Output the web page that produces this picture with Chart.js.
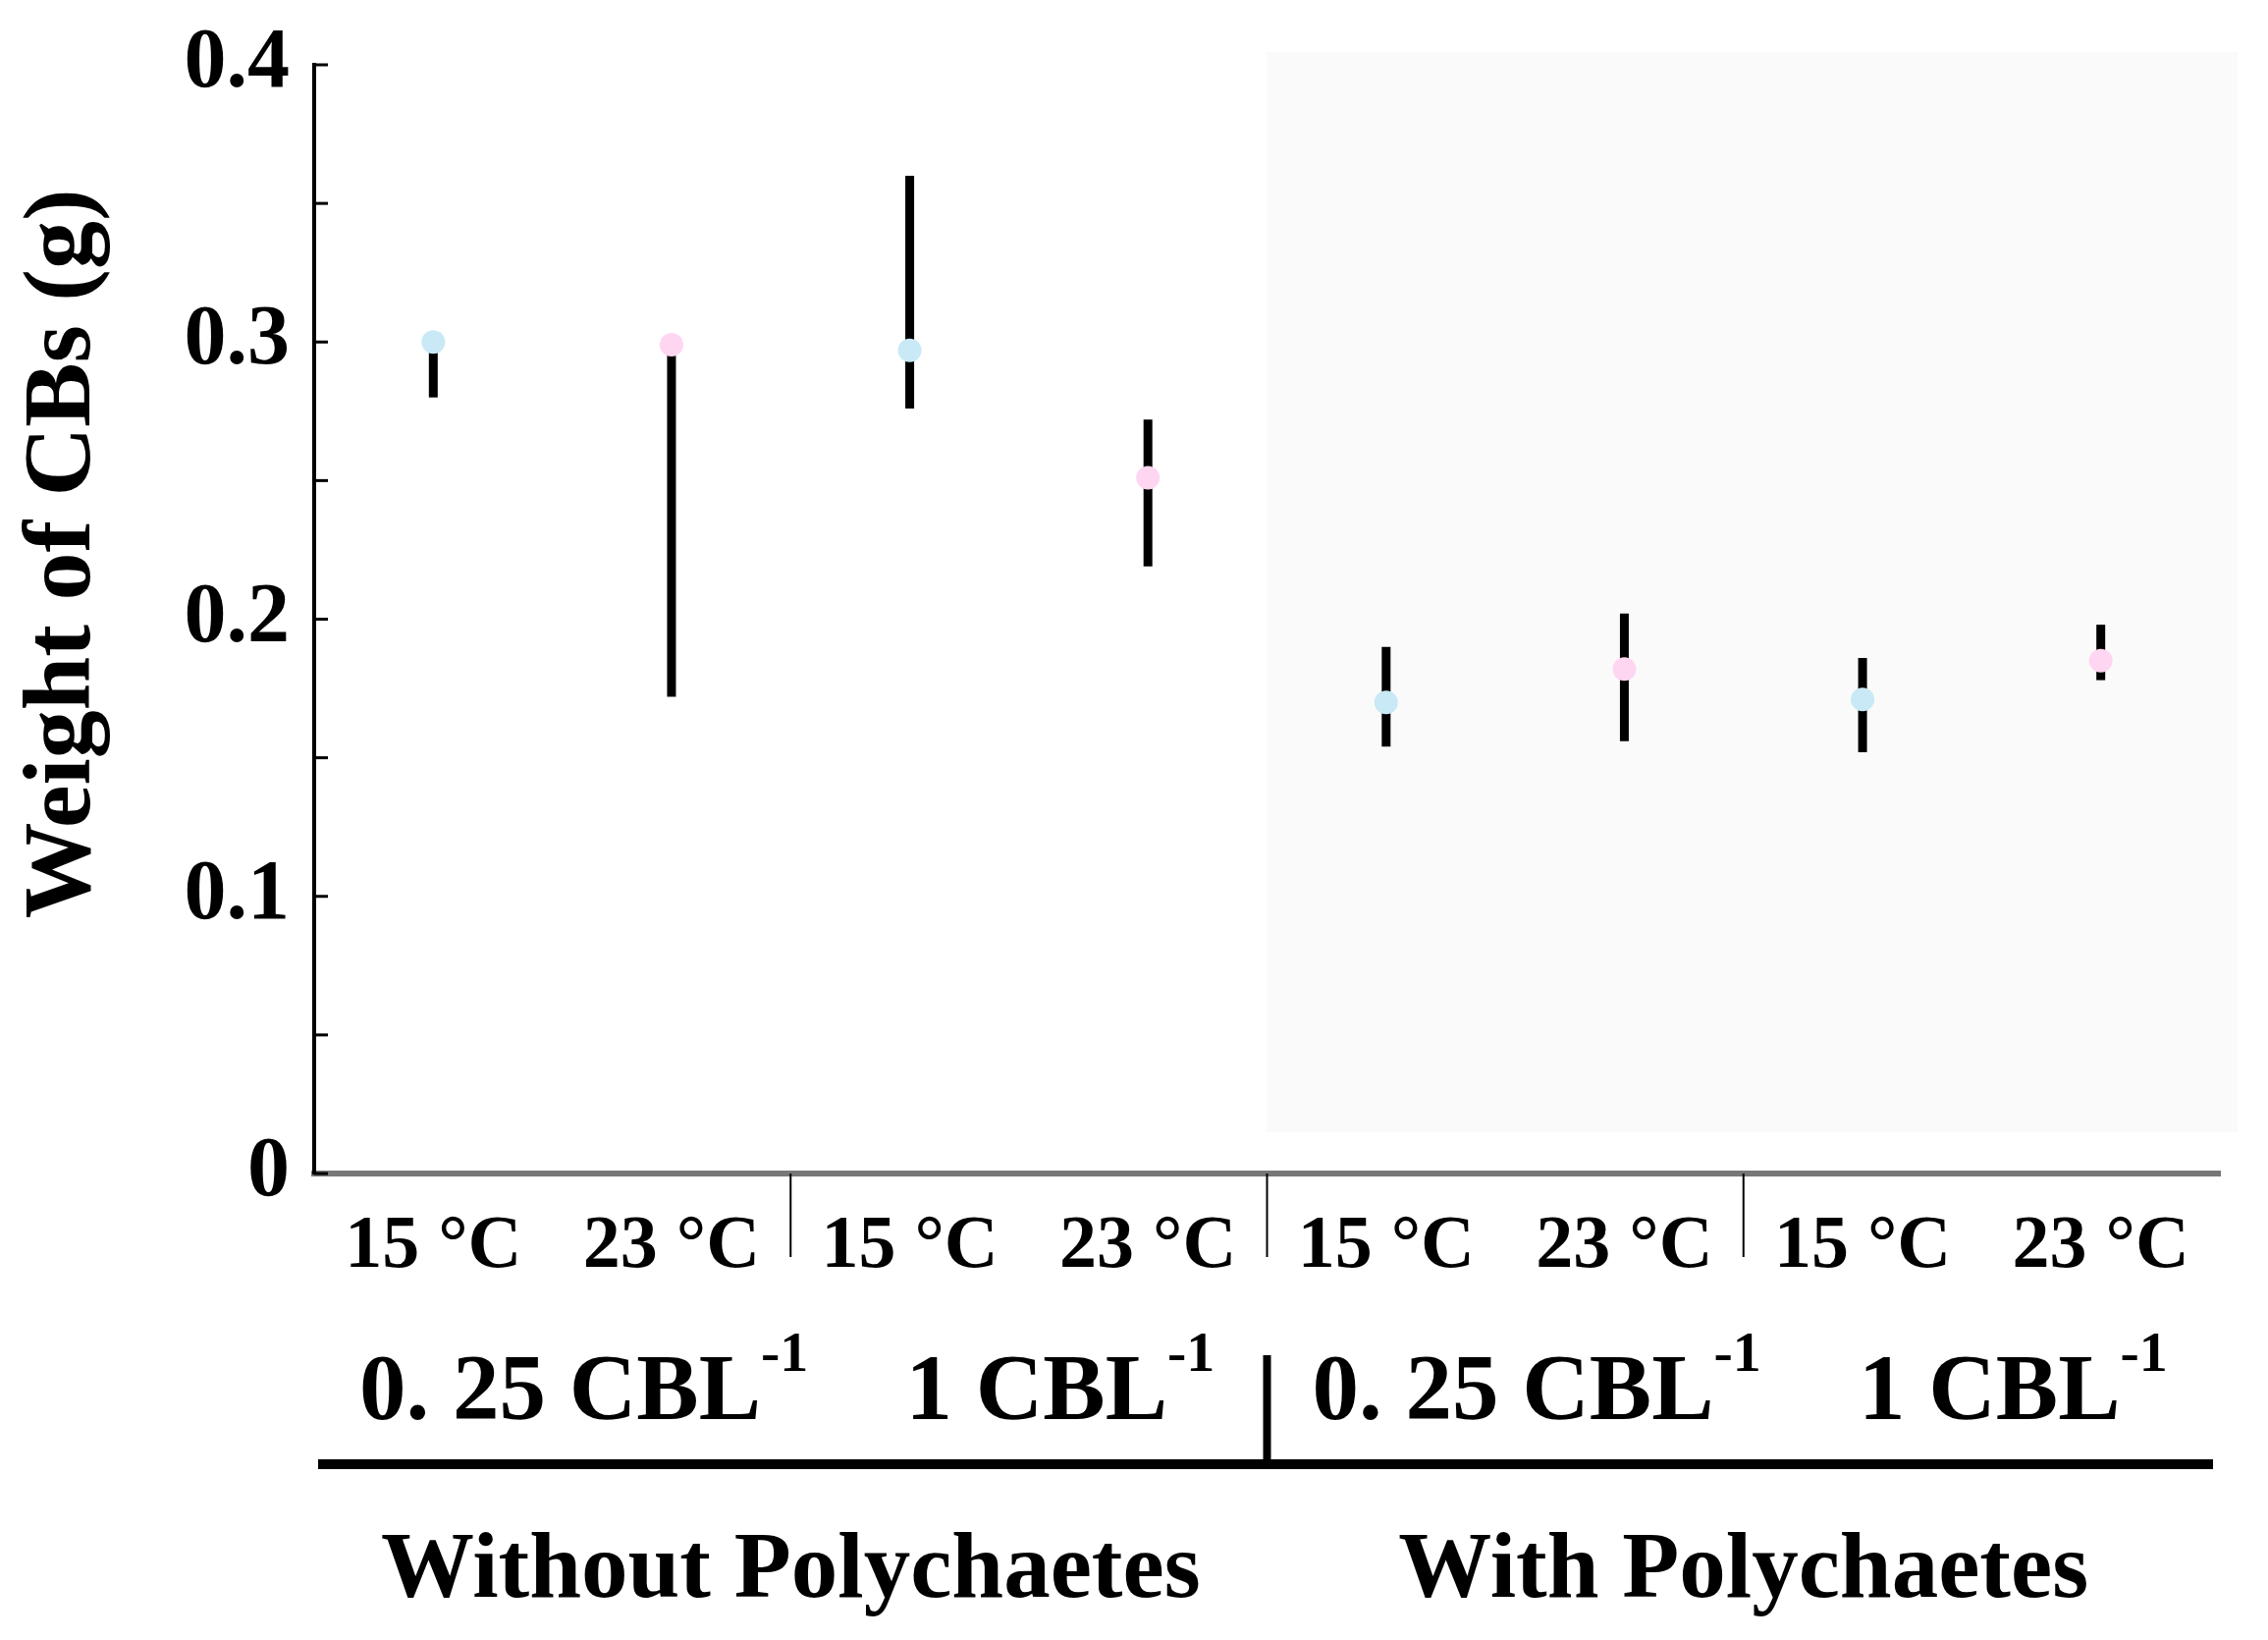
<!DOCTYPE html>
<html>
<head>
<meta charset="utf-8">
<script src="https://cdn.jsdelivr.net/npm/chart.js@4.4.1/dist/chart.umd.min.js"></script>
<style>
  html, body { margin: 0; padding: 0; background: #fff; }
  #wrap { width: 2310px; height: 1670px; }
</style>
</head>
<body>
<div id="wrap"><canvas id="chart" width="2310" height="1670"></canvas></div>
<script>
// categories
const temps = ['15 °C', '23 °C', '15 °C', '23 °C', '15 °C', '23 °C', '15 °C', '23 °C'];
const concLabels = ['0. 25 CBL', '1 CBL', '0. 25 CBL', '1 CBL'];
const groupLabels = ['Without Polychaetes', 'With Polychaetes'];

// weight of CBs (g), mean and error bar ends
const meanWeight = [0.300, 0.299, 0.297, 0.251, 0.170, 0.182, 0.171, 0.185];
const upperBar   = [0.300, 0.299, 0.360, 0.272, 0.190, 0.202, 0.186, 0.198];
const lowerBar   = [0.280, 0.172, 0.276, 0.219, 0.154, 0.156, 0.152, 0.178];

const SERIF = '"Liberation Serif", "DejaVu Serif", serif';
const CYAN = '#c8e9f5';
const PINK = '#ffd6f1';

function line(ctx, x1, y1, x2, y2) {
  ctx.beginPath();
  ctx.moveTo(x1, y1);
  ctx.lineTo(x2, y2);
  ctx.stroke();
}

const decorations = {
  id: 'decorations',
  beforeDatasetsDraw(chart) {
    const { ctx, chartArea, scales: { x, y } } = chart;
    const split = (x.getPixelForValue(3) + x.getPixelForValue(4)) / 2;
    ctx.save();
    // faint shading behind the "with polychaetes" half
    ctx.fillStyle = '#fafafa';
    ctx.fillRect(split, chartArea.top - 13, chartArea.right + 18 - split, chartArea.bottom - 42 - chartArea.top + 13);

    // inward y ticks
    ctx.strokeStyle = '#000';
    ctx.lineWidth = 3;
    y.ticks.forEach((t, i) => {
      const py = y.getPixelForTick(i);
      line(ctx, chartArea.left, py, chartArea.left + 14, py);
    });

    // error bars
    ctx.lineWidth = 9;
    ctx.lineCap = 'butt';
    meanWeight.forEach((m, i) => {
      const px = x.getPixelForValue(i);
      line(ctx, px, y.getPixelForValue(upperBar[i]), px, y.getPixelForValue(lowerBar[i]));
    });
    ctx.restore();
  },
  afterDraw(chart) {
    const { ctx, chartArea, scales: { x } } = chart;
    const mid = (a, b) => (x.getPixelForValue(a) + x.getPixelForValue(b)) / 2;
    ctx.save();
    ctx.strokeStyle = '#000';
    ctx.fillStyle = '#000';

    // thin separators under the axis
    ctx.lineWidth = 2;
    [1, 3, 5].forEach(i => {
      const px = mid(i, i + 1);
      line(ctx, px, chartArea.bottom, px, chartArea.bottom + 85);
    });

    // concentration row
    concLabels.forEach((txt, k) => {
      const cx = mid(2 * k, 2 * k + 1) + 32;
      ctx.font = 'bold 95px ' + SERIF;
      const w = ctx.measureText(txt).width;
      ctx.font = 'bold 58px ' + SERIF;
      const sw = ctx.measureText('-1').width;
      const start = cx - (w + sw) / 2;
      ctx.textAlign = 'left';
      ctx.textBaseline = 'alphabetic';
      ctx.font = 'bold 95px ' + SERIF;
      ctx.fillText(txt, start, 1445);
      ctx.font = 'bold 58px ' + SERIF;
      ctx.fillText('-1', start + w, 1396);
    });

    // group bracket
    const split = mid(3, 4);
    ctx.lineWidth = 8;
    line(ctx, split, 1380, split, 1488);
    ctx.lineWidth = 10;
    line(ctx, chartArea.left + 4, 1491, chartArea.right - 7, 1491);

    // group row
    ctx.font = 'bold 95px ' + SERIF;
    ctx.textAlign = 'center';
    ctx.fillText(groupLabels[0], mid(0, 3), 1626);
    ctx.fillText(groupLabels[1], mid(4, 7), 1626);

    // y axis title
    ctx.translate(66, 564);
    ctx.rotate(-Math.PI / 2);
    ctx.textBaseline = 'middle';
    ctx.font = 'bold 98px ' + SERIF;
    ctx.fillText('Weight of CBs (g)', 0, 0);
    ctx.restore();
  }
};

new Chart(document.getElementById('chart'), {
  type: 'line',
  data: {
    labels: temps,
    datasets: [{
      data: meanWeight,
      showLine: false,
      pointRadius: 12,
      pointBorderWidth: 0,
      pointBackgroundColor: meanWeight.map((v, i) => i % 2 === 0 ? CYAN : PINK)
    }]
  },
  options: {
    responsive: false,
    animation: false,
    devicePixelRatio: 1,
    layout: { padding: { top: 66, right: 49, left: 0, bottom: 0 } },
    plugins: { legend: { display: false }, tooltip: { enabled: false } },
    scales: {
      x: {
        type: 'category',
        offset: true,
        grid: { display: false, drawTicks: false },
        border: { display: true, color: '#777', width: 6 },
        ticks: {
          color: '#000',
          padding: 30,
          maxRotation: 0,
          autoSkip: false,
          font: { family: SERIF, size: 76, weight: 'bold' }
        },
        afterFit(scale) { scale.height = 475; }
      },
      y: {
        min: 0,
        max: 0.4,
        grid: { display: false, drawTicks: false },
        border: { display: true, color: '#000', width: 4 },
        ticks: {
          stepSize: 0.05,
          padding: 25,
          color: '#000',
          font: { family: SERIF, size: 86, weight: 'bold' },
          callback: v => {
            const c = Math.round(v * 100);
            if (c % 10 !== 0) return '';
            return c === 0 ? '0' : (c / 100).toFixed(1);
          }
        },
        afterFit(scale) {
          scale.width = 320;
          scale.paddingTop = 0;
          scale.paddingBottom = 0;
        }
      }
    }
  },
  plugins: [decorations]
});
</script>
</body>
</html>
